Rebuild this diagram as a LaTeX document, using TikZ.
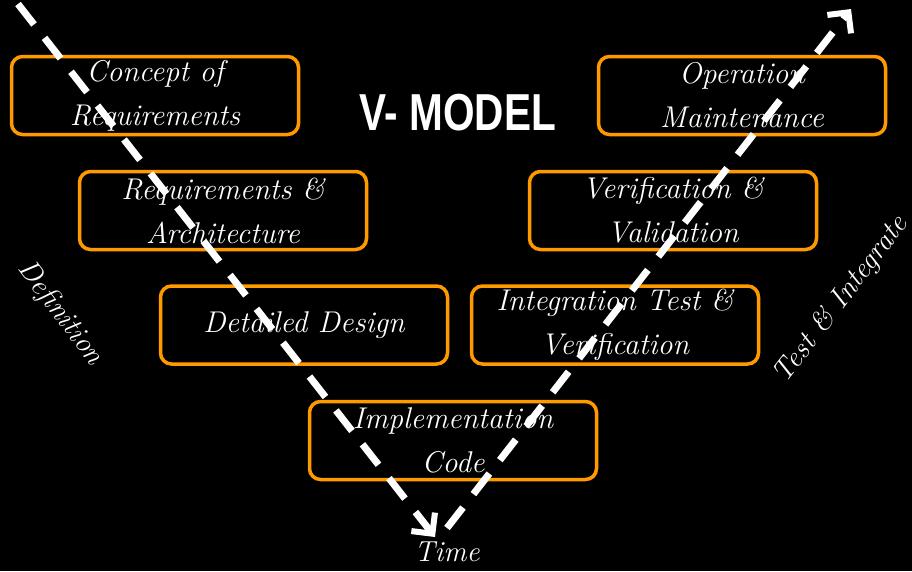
\documentclass[tikz,border=0pt]{standalone}
\usepackage{fontspec}
\newfontfamily\titlefont{Liberation Sans}
\usetikzlibrary{arrows.meta}
\definecolor{vorange}{RGB}{255,153,0}
\tikzset{
  vbox/.style={draw=vorange, line width=3.5pt, rounded corners=11pt, fill=black,
    minimum width=287pt, minimum height=78pt, inner sep=0pt, text=white,
    align=center, font=\fontsize{30}{44}\selectfont\itshape},
  vlabel/.style={text=white, font=\fontsize{29}{34}\selectfont\itshape, inner sep=0pt},
  vdash/.style={draw=white, line width=7pt, dash pattern=on 26pt off 17pt,
    -{Straight Barb[length=15pt,width=30pt,line width=6pt]}},
}
\begin{document}
\begin{tikzpicture}[x=1pt,y=-1pt]
\fill[black] (0,0) rectangle (912,571);
\useasboundingbox (0,0) rectangle (912,571);
% boxes
\node[vbox] (c1) at (155,95.5) {Concept of\\Requirements};
\node[vbox] (c2) at (742,95.5) {Operation\\Maintenance};
\node[vbox] (c3) at (223,210.5) {Requirements \&\\Architecture};
\node[vbox] (c4) at (673,210.5) {Verification \&\\Validation};
\node[vbox] (c5) at (304,325) {Detailed Design};
\node[vbox] (c6) at (615,325) {Integration Test \&\\Verification};
\node[vbox] (c7) at (453,440.5) {Implementation\\Code};
% title
\node[text=white, inner sep=0pt, xscale=0.78, font=\titlefont\bfseries\fontsize{52}{60}\selectfont] (title) at (458,113) {V- MODEL};
% side labels
\node[vlabel, rotate=-53] (def) at (60,313) {Definition};
\node[vlabel, rotate=52.5] (ti) at (841,300) {Test \& Integrate};
\node[vlabel] (time) at (447,552) {Time};
% dashed V
\coordinate (ls) at (18,4);
\coordinate (le) at (435,537);
\coordinate (rs) at (447,528);
\coordinate (re) at (851,9);
\draw[vdash] (ls) -- (le);
\draw[vdash] (rs) -- (re);
\end{tikzpicture}
\end{document}
